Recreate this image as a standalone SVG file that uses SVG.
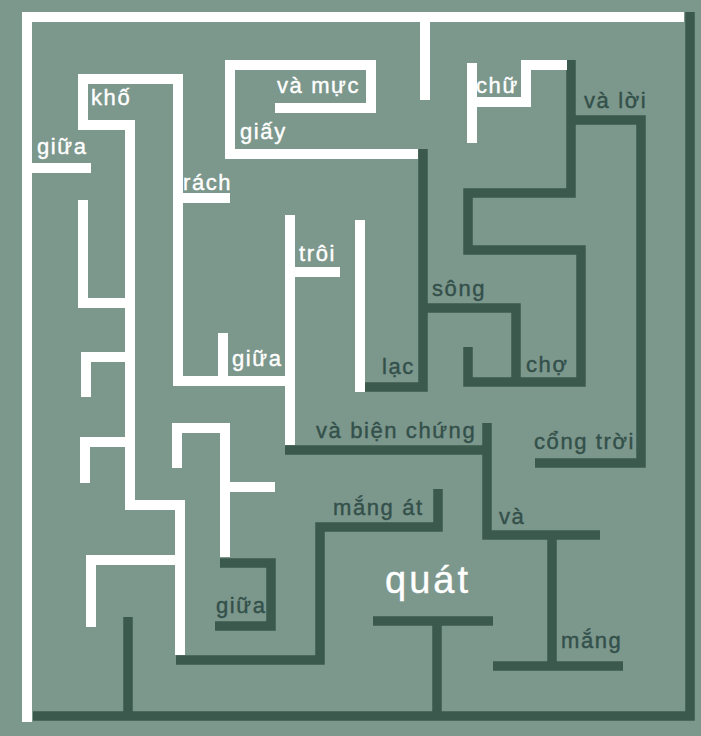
<svg xmlns="http://www.w3.org/2000/svg" width="701" height="736" viewBox="0 0 701 736">
<style>
.w{fill:none;stroke:#ffffff;stroke-width:10;stroke-linejoin:miter;stroke-linecap:butt}
.d{fill:none;stroke:#3b594d;stroke-width:9.5;stroke-linejoin:miter;stroke-linecap:butt}
text{font-family:"Liberation Sans",Arial,sans-serif;font-size:22px;letter-spacing:1.6px;stroke-width:0.4px}
.tw{fill:#ffffff;stroke:#ffffff}
.td{fill:#33504a;stroke:#33504a}
</style>
<rect x="0" y="0" width="701" height="736" fill="#7c978c"/>
<g id="dark-walls">
<path class="d" d="M690,12 V716 H33"/>
<path class="d" d="M423,149 V387 H365"/>
<path class="d" d="M423,308 H516 V382"/>
<path class="d" d="M468,347 V382 H581 V250 H468 V193 H571 V60"/>
<path class="d" d="M575,120 H641 V463 H535"/>
<path class="d" d="M285,450 H487"/>
<path class="d" d="M487,423 V535 H600"/>
<path class="d" d="M552,535 V666"/>
<path class="d" d="M493,666 H623"/>
<path class="d" d="M176,660 H320 V527 H438 V489"/>
<path class="d" d="M220,563 H271 V626 H215"/>
<path class="d" d="M373,621 H493"/>
<path class="d" d="M437,621 V716"/>
<path class="d" d="M128,617 V716"/>
</g>
<g id="white-walls">
<path class="w" d="M27,722 V17 H684"/>
<path class="w" d="M425,17 V100"/>
<path class="w" d="M418,154 H230 V65 H371 V108 H275"/>
<path class="w" d="M472,63 V143"/>
<path class="w" d="M472,102 H526 V65 H567"/>
<path class="w" d="M180,655 V505 H130 V125 H83 V79 H178 V381 H291"/>
<path class="w" d="M290,215 V445"/>
<path class="w" d="M290,272 H340"/>
<path class="w" d="M178,198 H230"/>
<path class="w" d="M223,333 V381"/>
<path class="w" d="M27,168 H91"/>
<path class="w" d="M83,200 V303 H130"/>
<path class="w" d="M130,357 H86 V397"/>
<path class="w" d="M130,442 H85 V483"/>
<path class="w" d="M91,627 V560 H180"/>
<path class="w" d="M177,468 V428 H225 V557"/>
<path class="w" d="M225,487 H275"/>
<path class="w" d="M360,220 V392"/>
</g>
<g id="labels">
<text class="tw" x="91" y="105">khố</text>
<text class="tw" x="37" y="154">giữa</text>
<text class="tw" x="277" y="93">và mực</text>
<text class="tw" x="240" y="139">giấy</text>
<text class="tw" x="183" y="190">rách</text>
<text class="tw" x="299" y="261">trôi</text>
<text class="tw" x="232" y="366">giữa</text>
<text class="tw" x="476" y="93">chữ</text>
<text class="tw" x="385" y="593" style="font-size:38px;letter-spacing:3px">quát</text>
<text class="td" x="584" y="108">và lời</text>
<text class="td" x="432" y="296">sông</text>
<text class="td" x="382" y="374">lạc</text>
<text class="td" x="526" y="372">chợ</text>
<text class="td" x="316" y="438">và biện chứng</text>
<text class="td" x="534" y="449">cổng trời</text>
<text class="td" x="333" y="515">mắng át</text>
<text class="td" x="499" y="524">và</text>
<text class="td" x="216" y="613">giữa</text>
<text class="td" x="561" y="648">mắng</text>
</g>
</svg>
